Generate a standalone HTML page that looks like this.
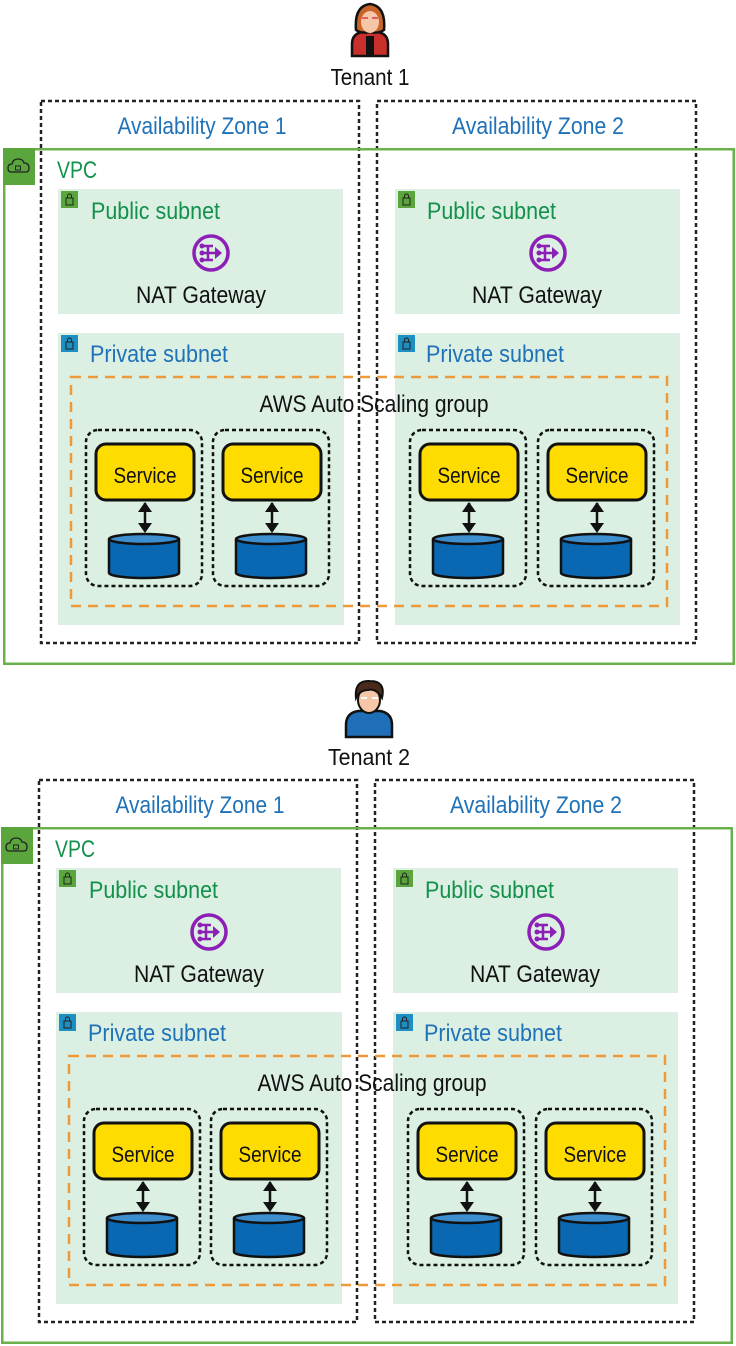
<!DOCTYPE html>
<html><head><meta charset="utf-8"><style>
html,body{margin:0;padding:0;background:#fff}
svg{display:block}
text{font-family:"Liberation Sans",sans-serif}
</style></head><body>
<svg width="736" height="1346" viewBox="0 0 736 1346" xmlns="http://www.w3.org/2000/svg">
<defs>
<g id="lockg"><rect x="0" y="0" width="17" height="17" fill="#5aa53c"/><rect x="5" y="7" width="7" height="7" fill="none" stroke="#222" stroke-width="1"/><path d="M6.5 7 V5 a2 2 0 0 1 4 0 V7" fill="none" stroke="#222" stroke-width="1"/></g>
<g id="lockb"><rect x="0" y="0" width="17" height="17" fill="#1d8fc2"/><rect x="5" y="7" width="7" height="7" fill="none" stroke="#222" stroke-width="1"/><path d="M6.5 7 V5 a2 2 0 0 1 4 0 V7" fill="none" stroke="#222" stroke-width="1"/></g>
<g id="nat"><circle r="17" fill="none" stroke="#8c1fb5" stroke-width="3.5"/><path d="M-9 -7 H2 M-9 0 H4 M-9 7 H2 M-3 -7 V7" stroke="#8c1fb5" stroke-width="2.5" fill="none"/><circle cx="-9" cy="-7" r="2.5" fill="#8c1fb5"/><circle cx="-9" cy="0" r="2.5" fill="#8c1fb5"/><circle cx="-9" cy="7" r="2.5" fill="#8c1fb5"/><path d="M4 -6 L11 0 L4 6Z" fill="#8c1fb5"/></g>
<g id="inst"><rect x="0" y="0" width="116" height="156" rx="12" fill="none" stroke="#111" stroke-width="2.5" stroke-dasharray="4 3"/><rect x="10" y="14" width="98" height="56" rx="10" fill="#ffdc00" stroke="#111" stroke-width="3"/><path d="M59 73 V101" stroke="#111" stroke-width="2.5"/><path d="M52 82 L59 72 L66 82Z M52 93 L59 103 L66 93Z" fill="#111"/><path d="M23 109 V143 a35 5 0 0 0 70 0 V109" fill="#0a68b2" stroke="#111" stroke-width="2.5"/><ellipse cx="58" cy="109" rx="35" ry="5" fill="#3d8fd0" stroke="#111" stroke-width="2.5"/></g>
</defs>

<g>
<path d="M352 56 V44 Q352 34 362 32 L378 32 Q388 34 388 44 V56Z" fill="#c9302c" stroke="#111" stroke-width="2.5"/>
<rect x="366" y="36" width="8" height="20" fill="#111"/>
<path d="M356 30 Q354 6 370 4 Q386 6 384 30 Q378 34 370 32 Q362 34 356 30Z" fill="#c8642a" stroke="#111" stroke-width="2.5"/>
<ellipse cx="370" cy="22" rx="9" ry="11" fill="#f6c6a8"/>
<path d="M362 18 h6 M372 18 h6" stroke="#e06060" stroke-width="2"/>
</g>
<text x="370" y="85" font-size="23" text-anchor="middle" textLength="79" lengthAdjust="spacingAndGlyphs" fill="#111">Tenant 1</text>

<g>
<path d="M346 737 V725 Q346 713 358 711 L380 711 Q392 713 392 725 V737Z" fill="#1f6fb8" stroke="#111" stroke-width="2.5"/>
<ellipse cx="369" cy="700" rx="11" ry="13" fill="#f6c6a8" stroke="#111" stroke-width="2"/>
<path d="M356 698 Q354 680 370 681 Q386 681 382 698 Q376 688 368 690 Q360 690 356 698Z" fill="#4a2a1a" stroke="#111" stroke-width="2"/>
<path d="M361 698 h6 M372 698 h6" stroke="#fff" stroke-width="2"/>
</g>
<text x="369" y="765" font-size="23" text-anchor="middle" textLength="82" lengthAdjust="spacingAndGlyphs" fill="#111">Tenant 2</text>

<g>
<rect x="41" y="101" width="318" height="542" fill="none" stroke="#222" stroke-width="2.5" stroke-dasharray="4 3"/>
<rect x="377" y="101" width="319" height="542" fill="none" stroke="#222" stroke-width="2.5" stroke-dasharray="4 3"/>
<text x="202" y="134" font-size="24" text-anchor="middle" textLength="169" lengthAdjust="spacingAndGlyphs" fill="#1f72b8">Availability Zone 1</text>
<text x="538" y="134" font-size="24" text-anchor="middle" textLength="172" lengthAdjust="spacingAndGlyphs" fill="#1f72b8">Availability Zone 2</text>
<rect x="4.25" y="149.25" width="729.5" height="514.5" fill="none" stroke="#6ab04c" stroke-width="2.5"/>
<rect x="3" y="148" width="32" height="37" fill="#5aa53c"/>
<path d="M11 172 Q8 172 8 168 Q8 164 12 164 Q13 159 18 159 Q23 159 24 163 Q29 163 29 168 Q29 172 26 172Z" fill="none" stroke="#222" stroke-width="1.3"/>
<rect x="15.5" y="166" width="5" height="4" fill="none" stroke="#222" stroke-width="1"/>
<text x="57" y="178" font-size="24" textLength="40" lengthAdjust="spacingAndGlyphs" fill="#12914a">VPC</text>

<rect x="58" y="189" width="285" height="125" fill="#dbefe2"/>
<rect x="395" y="189" width="285" height="125" fill="#dbefe2"/>
<use href="#lockg" x="61" y="191"/><use href="#lockg" x="398" y="191"/>
<text x="91" y="219" font-size="24" textLength="129" lengthAdjust="spacingAndGlyphs" fill="#12914a">Public subnet</text>
<text x="427" y="219" font-size="24" textLength="129" lengthAdjust="spacingAndGlyphs" fill="#12914a">Public subnet</text>
<use href="#nat" x="211" y="253"/><use href="#nat" x="548" y="253"/>
<text x="201" y="303" font-size="24" text-anchor="middle" textLength="130" lengthAdjust="spacingAndGlyphs" fill="#111">NAT Gateway</text>
<text x="537" y="303" font-size="24" text-anchor="middle" textLength="130" lengthAdjust="spacingAndGlyphs" fill="#111">NAT Gateway</text>

<rect x="58" y="333" width="286" height="292" fill="#dbefe2"/>
<rect x="395" y="333" width="285" height="292" fill="#dbefe2"/>
<use href="#lockb" x="61" y="335"/><use href="#lockb" x="398" y="335"/>
<text x="90" y="362" font-size="24" textLength="138" lengthAdjust="spacingAndGlyphs" fill="#1f72b8">Private subnet</text>
<text x="426" y="362" font-size="24" textLength="138" lengthAdjust="spacingAndGlyphs" fill="#1f72b8">Private subnet</text>
<rect x="71" y="377" width="596" height="229" fill="none" stroke="#ee9a3a" stroke-width="2.5" stroke-dasharray="10 7"/>
<text x="374" y="412" font-size="24" text-anchor="middle" textLength="229" lengthAdjust="spacingAndGlyphs" fill="#111">AWS Auto Scaling group</text>
<use href="#inst" x="86" y="430"/><use href="#inst" x="213" y="430"/><use href="#inst" x="410" y="430"/><use href="#inst" x="538" y="430"/>
<text x="145" y="483" font-size="22" text-anchor="middle" textLength="63" lengthAdjust="spacingAndGlyphs" fill="#111">Service</text>
<text x="272" y="483" font-size="22" text-anchor="middle" textLength="63" lengthAdjust="spacingAndGlyphs" fill="#111">Service</text>
<text x="469" y="483" font-size="22" text-anchor="middle" textLength="63" lengthAdjust="spacingAndGlyphs" fill="#111">Service</text>
<text x="597" y="483" font-size="22" text-anchor="middle" textLength="63" lengthAdjust="spacingAndGlyphs" fill="#111">Service</text>
</g>

<g transform="translate(-2,679)">
<rect x="41" y="101" width="318" height="542" fill="none" stroke="#222" stroke-width="2.5" stroke-dasharray="4 3"/>
<rect x="377" y="101" width="319" height="542" fill="none" stroke="#222" stroke-width="2.5" stroke-dasharray="4 3"/>
<text x="202" y="134" font-size="24" text-anchor="middle" textLength="169" lengthAdjust="spacingAndGlyphs" fill="#1f72b8">Availability Zone 1</text>
<text x="538" y="134" font-size="24" text-anchor="middle" textLength="172" lengthAdjust="spacingAndGlyphs" fill="#1f72b8">Availability Zone 2</text>
<rect x="4.25" y="149.25" width="729.5" height="514.5" fill="none" stroke="#6ab04c" stroke-width="2.5"/>
<rect x="3" y="148" width="32" height="37" fill="#5aa53c"/>
<path d="M11 172 Q8 172 8 168 Q8 164 12 164 Q13 159 18 159 Q23 159 24 163 Q29 163 29 168 Q29 172 26 172Z" fill="none" stroke="#222" stroke-width="1.3"/>
<rect x="15.5" y="166" width="5" height="4" fill="none" stroke="#222" stroke-width="1"/>
<text x="57" y="178" font-size="24" textLength="40" lengthAdjust="spacingAndGlyphs" fill="#12914a">VPC</text>

<rect x="58" y="189" width="285" height="125" fill="#dbefe2"/>
<rect x="395" y="189" width="285" height="125" fill="#dbefe2"/>
<use href="#lockg" x="61" y="191"/><use href="#lockg" x="398" y="191"/>
<text x="91" y="219" font-size="24" textLength="129" lengthAdjust="spacingAndGlyphs" fill="#12914a">Public subnet</text>
<text x="427" y="219" font-size="24" textLength="129" lengthAdjust="spacingAndGlyphs" fill="#12914a">Public subnet</text>
<use href="#nat" x="211" y="253"/><use href="#nat" x="548" y="253"/>
<text x="201" y="303" font-size="24" text-anchor="middle" textLength="130" lengthAdjust="spacingAndGlyphs" fill="#111">NAT Gateway</text>
<text x="537" y="303" font-size="24" text-anchor="middle" textLength="130" lengthAdjust="spacingAndGlyphs" fill="#111">NAT Gateway</text>

<rect x="58" y="333" width="286" height="292" fill="#dbefe2"/>
<rect x="395" y="333" width="285" height="292" fill="#dbefe2"/>
<use href="#lockb" x="61" y="335"/><use href="#lockb" x="398" y="335"/>
<text x="90" y="362" font-size="24" textLength="138" lengthAdjust="spacingAndGlyphs" fill="#1f72b8">Private subnet</text>
<text x="426" y="362" font-size="24" textLength="138" lengthAdjust="spacingAndGlyphs" fill="#1f72b8">Private subnet</text>
<rect x="71" y="377" width="596" height="229" fill="none" stroke="#ee9a3a" stroke-width="2.5" stroke-dasharray="10 7"/>
<text x="374" y="412" font-size="24" text-anchor="middle" textLength="229" lengthAdjust="spacingAndGlyphs" fill="#111">AWS Auto Scaling group</text>
<use href="#inst" x="86" y="430"/><use href="#inst" x="213" y="430"/><use href="#inst" x="410" y="430"/><use href="#inst" x="538" y="430"/>
<text x="145" y="483" font-size="22" text-anchor="middle" textLength="63" lengthAdjust="spacingAndGlyphs" fill="#111">Service</text>
<text x="272" y="483" font-size="22" text-anchor="middle" textLength="63" lengthAdjust="spacingAndGlyphs" fill="#111">Service</text>
<text x="469" y="483" font-size="22" text-anchor="middle" textLength="63" lengthAdjust="spacingAndGlyphs" fill="#111">Service</text>
<text x="597" y="483" font-size="22" text-anchor="middle" textLength="63" lengthAdjust="spacingAndGlyphs" fill="#111">Service</text>
</g>
</svg>
</body></html>
